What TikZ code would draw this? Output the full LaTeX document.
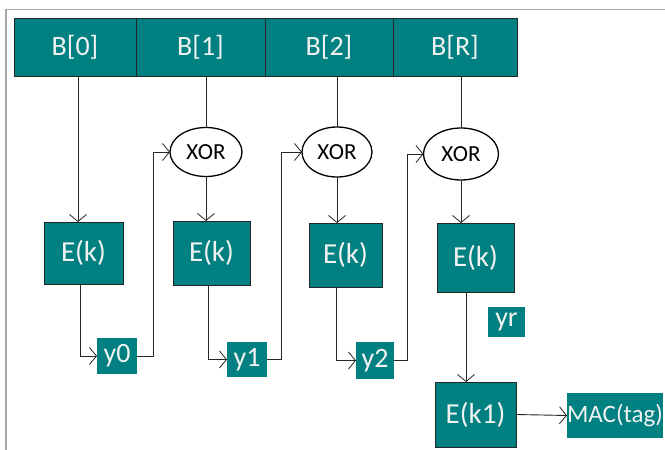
\documentclass[tikz,border=0pt]{standalone}
\usepackage{fontspec}
\setmainfont{Carlito}
\usetikzlibrary{arrows.meta,shapes.geometric}
\definecolor{tealbox}{HTML}{008080}
\definecolor{boxtext}{HTML}{F2F2F2}
\definecolor{frameline}{HTML}{A6A6A6}
\begin{document}
\begin{tikzpicture}[x=1pt,y=-1pt,
  every node/.style={inner sep=0pt,outer sep=0pt},
  block/.style={draw=black!85,line width=1pt,fill=tealbox,text=boxtext,
    font=\fontsize{28}{30}\selectfont},
  stage/.style={block,font=\fontsize{29}{31}\selectfont},
  label/.style={fill=tealbox,text=boxtext,font=\fontsize{28}{30}\selectfont},
  xorgate/.style={ellipse,draw=black,line width=1.3pt,fill=white,
    font=\fontsize{23}{25}\selectfont},
  conn/.style={draw=black!85,line width=0.9pt},
  arr/.style={conn,-{Straight Barb[length=7pt,width=17pt,line width=0.8pt]}}]
\useasboundingbox (0,0) rectangle (665,450);

% outer frame
\draw[frameline,line width=1.4pt] (6,452) -- (6,9.5) -- (667,9.5);

% message blocks
\node[block,minimum width=122,minimum height=58] (B0) at (75,47) {B[0]};
\node[block,minimum width=129,minimum height=58] (B1) at (200.5,47) {B[1]};
\node[block,minimum width=128,minimum height=58] (B2) at (329,47) {B[2]};
\node[block,minimum width=124,minimum height=58] (BR) at (455,47) {B[R]};

% XOR gates
\node[xorgate,minimum width=72,minimum height=49] (X1) at (206,152) {XOR};
\node[xorgate,minimum width=70,minimum height=50] (X2) at (337,152) {XOR};
\node[xorgate,minimum width=75,minimum height=52] (X3) at (461,154) {XOR};

% block cipher stages
\node[stage,minimum width=79,minimum height=62] (E0) at (83.5,253) {E(k)};
\node[stage,minimum width=77,minimum height=64] (E1) at (211.5,253) {E(k)};
\node[stage,minimum width=73,minimum height=64] (E2) at (345.5,255) {E(k)};
\node[stage,minimum width=77,minimum height=69] (E3) at (475.5,257.5) {E(k)};
\node[stage,minimum width=81,minimum height=65] (EK1) at (475.5,414.5) {E(k1)};

% intermediate values
\node[label,minimum width=40,minimum height=36] (Y0) at (117,356) {y0};
\node[label,minimum width=40,minimum height=35] (Y1) at (247,359.5) {y1};
\node[label,minimum width=38,minimum height=37] (Y2) at (375,360.5) {y2};
\node[label,minimum width=37,minimum height=30] (YR) at (506.5,322) {yr};
\node[label,minimum width=96,minimum height=45,font=\fontsize{25}{27}\selectfont] (MAC) at (615,415.5) {MAC(tag)};

% first chain
\draw[arr] ([xshift=-5.5pt]E0.north |- B0.south) -- ([xshift=-5.5pt]E0.north);
\draw[arr] ([xshift=-3.5pt]E0.south) |- (Y0.west);
\draw[arr] (Y0.east) -- ++(16,0) |- (X1.west);

% second chain
\draw[conn] (X1.north |- B1.south) -- (X1.north);
\draw[arr] (X1.south) -- (X1.south |- E1.north);
\draw[arr] ([xshift=-3.5pt]E1.south) |- (Y1.west);
\draw[arr] (Y1.east) -- ++(14,0) |- (X2.west);

% third chain
\draw[conn] (X2.north |- B2.south) -- (X2.north);
\draw[arr] (X2.south) -- (X2.south |- E2.north);
\draw[arr] ([xshift=-9.5pt]E2.south) |- (Y2.west);
\draw[arr] (Y2.east) -- ++(13,0) |- (X3.west);

% last chain and tag
\draw[conn] (X3.north |- BR.south) -- (X3.north);
\draw[arr] (X3.south) -- (X3.south |- E3.north);
\draw[arr] ([xshift=-9.5pt]E3.south) -- ([xshift=-9.5pt]E3.south |- EK1.north);
\draw[arr] (EK1.east) -- (MAC.west);
\end{tikzpicture}
\end{document}
